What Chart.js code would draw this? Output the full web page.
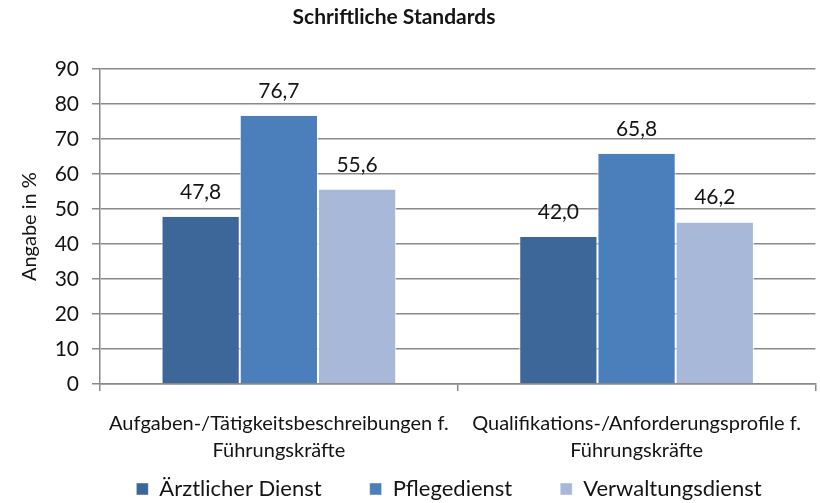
<!DOCTYPE html>
<html>
<head>
<meta charset="utf-8">
<script src="https://cdn.jsdelivr.net/npm/chart.js@4/dist/chart.umd.min.js"></script>
<style>
  html, body { margin: 0; padding: 0; background: #fff; }
  #wrap { width: 820px; height: 503px; }
</style>
</head>
<body>
<div id="wrap"><canvas id="myChart" width="820" height="503"></canvas></div>
<script>
// datos del grafico
const kategorien = [
  ["Aufgaben-/Tätigkeitsbeschreibungen f.", "Führungskräfte"],
  ["Qualifikations-/Anforderungsprofile f.", "Führungskräfte"],
];
const aerztlich = [47.8, 42.0];
const pflege = [76.7, 65.8];
const verwaltung = [55.6, 46.2];
const yTicks = [0, 10, 20, 30, 40, 50, 60, 70, 80, 90];

const FONT = "Lato, 'Open Sans', sans-serif";
const TEXT = "#141414";
const GRID = "#8a8a8a";

// etiquetas encima de las barras
const valueLabels = {
  id: "valueLabels",
  afterDatasetsDraw(chart) {
    const ctx = chart.ctx;
    ctx.save();
    ctx.font = "21px " + FONT;
    ctx.fillStyle = TEXT;
    ctx.textAlign = "center";
    ctx.textBaseline = "alphabetic";
    chart.data.datasets.forEach((ds, i) => {
      chart.getDatasetMeta(i).data.forEach((bar, j) => {
        const txt = ds.data[j].toFixed(1).replace(".", ",");
        ctx.fillText(txt, bar.x, bar.y - 18);
      });
    });
    ctx.restore();
  },
};

// ajustes tras el layout: el eje x recorta sus etiquetas a su caja,
// se amplia hacia abajo para la 2a linea; titulo y leyenda desplazados
const ajusteLayout = {
  id: "ajusteLayout",
  afterLayout(chart) {
    chart.scales.x.bottom += 42;
    chart.titleBlock.left -= 25;
    chart.titleBlock.right -= 25;
    chart.legend.left += 30;
    chart.legend.right += 30;
  },
};

var data = {
  labels: kategorien,
  datasets: [
    { label: "Ärztlicher Dienst", data: aerztlich, backgroundColor: "#3d6799" },
    { label: "Pflegedienst", data: pflege, backgroundColor: "#4b7fbc" },
    { label: "Verwaltungsdienst", data: verwaltung, backgroundColor: "#a7b8d9" },
  ].map((d) => Object.assign(d, {
    borderColor: "rgba(255,255,255,0.9)",
    borderWidth: { left: 1, right: 1, top: 0, bottom: 0 },
    categoryPercentage: 0.656,
    barPercentage: 1.0,
  })),
};

var options = {
  responsive: false,
  animation: false,
  layout: { padding: { left: 18, right: 0, top: 0, bottom: 0 } },
  plugins: {
    tooltip: { enabled: false },
    title: {
      display: true,
      text: "Schriftliche Standards",
      color: TEXT,
      font: { family: FONT, size: 21, weight: "bold", lineHeight: 1.2 },
      padding: { top: 5, bottom: 39 },
    },
    legend: {
      position: "bottom",
      maxHeight: 73,
      labels: {
        color: TEXT,
        font: { family: FONT, size: 22 },
        boxWidth: 12,
        boxHeight: 12,
        padding: 48,
      },
    },
  },
  scales: {
    x: {
      grid: { drawOnChartArea: false, drawTicks: true, tickLength: 7, color: GRID, lineWidth: 1.5 },
      border: { color: GRID, width: 1.5 },
      ticks: {
        color: TEXT,
        font: { family: FONT, size: 20, lineHeight: 1.35 },
        padding: 19,
        maxRotation: 0,
        autoSkip: false,
      },
      afterFit(scale) { scale.height = 46; },
    },
    y: {
      min: 0,
      max: 90,
      afterBuildTicks(scale) { scale.ticks = yTicks.map((v) => ({ value: v })); },
      grid: { color: GRID, lineWidth: 1.5, tickLength: 8 },
      border: { color: GRID, width: 1.5 },
      ticks: { color: TEXT, font: { family: FONT, size: 21 }, padding: 13 },
      title: {
        display: true,
        text: "Angabe in %",
        color: TEXT,
        font: { family: FONT, size: 20 },
        padding: { top: 0, bottom: 0 },
      },
      afterFit(scale) { scale.width = 82; },
    },
  },
};

var ctx = document.getElementById("myChart").getContext("2d");
var myChart = new Chart(ctx, {
  type: "bar",
  data: data,
  options: options,
  plugins: [valueLabels, ajusteLayout],
});
</script>
</body>
</html>
